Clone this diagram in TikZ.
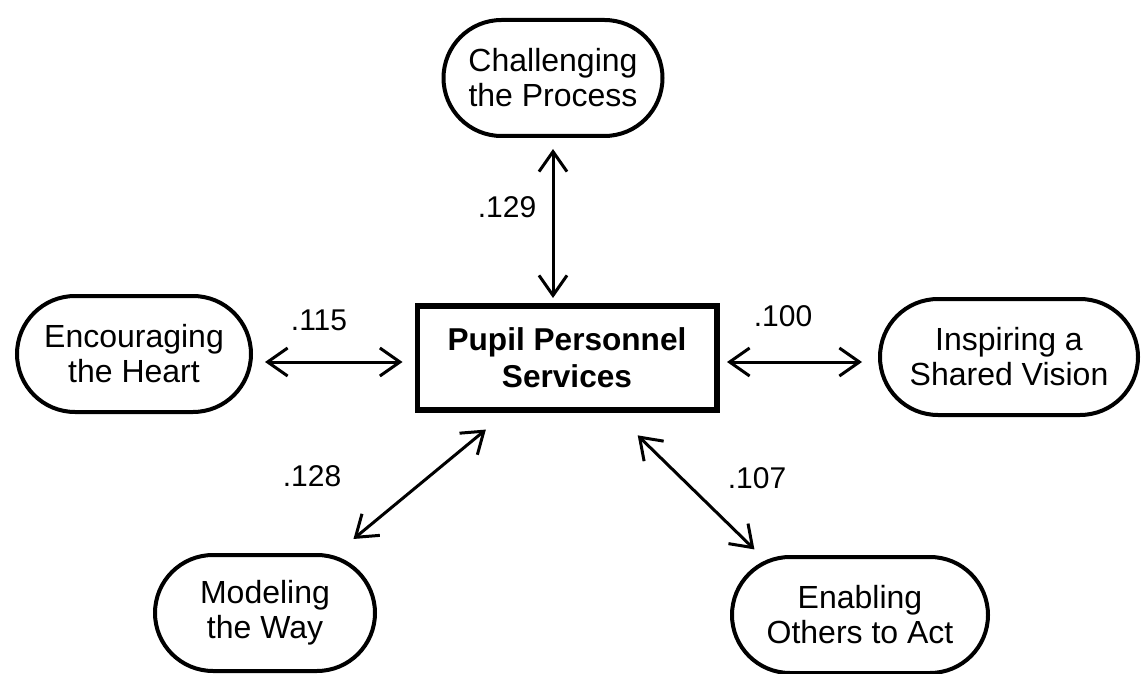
\documentclass[tikz,border=0pt]{standalone}
\usepackage{fontspec}
\setmainfont{Liberation Sans}
\usetikzlibrary{arrows.meta, positioning}

\begin{document}
\begin{tikzpicture}[
    x=0.5pt, y=-0.5pt,
    practice/.style={rectangle, draw, line width=2pt, rounded corners=29pt,
                minimum height=58pt, align=center,
                font=\fontsize{16}{17.5}\selectfont},
    unit/.style={rectangle, draw, line width=2.8pt,
                minimum width=149.7pt, minimum height=52.2pt,
                align=center, font=\fontsize{15.8}{18.5}\selectfont\bfseries},
    link/.style={{Straight Barb[length=10pt,width=14pt]}-{Straight Barb[length=10pt,width=14pt]},
                line width=1.5pt},
    coef/.style={font=\fontsize{15}{17}\selectfont}
]
\useasboundingbox (0,0) rectangle (1142,674);

\node[unit] (pps) at (567,358) {Pupil Personnel\\Services};
\node[practice, minimum width=109.5pt] (chal) at (553,78) {Challenging\\the Process};
\node[practice, minimum width=117pt] (enc) at (134,354) {Encouraging\\the Heart};
\node[practice, minimum width=129pt] (insp) at (1009,357) {Inspiring a\\Shared Vision};
\node[practice, minimum width=110pt] (model) at (265,613) {Modeling\\the Way};
\node[practice, minimum width=128pt] (enab) at (860,615) {Enabling\\Others to Act};

\draw[link, shorten <=5.5pt, shorten >=2.5pt] (chal.south) -- (chal.south |- pps.north);
\draw[link, shorten <=6pt, shorten >=6pt] ([yshift=-2pt]enc.east |- pps.west) -- ([yshift=-2pt]pps.west);
\draw[link, shorten <=3.75pt, shorten >=8pt] ([yshift=-2pt]pps.east) -- ([yshift=-2pt]insp.west |- pps.east);
\draw[link, shorten <=13pt, shorten >=11pt] (pps.222) -- (model.40);
\draw[link, shorten <=16pt, shorten >=4pt] (pps.311) -- (enab.149);

\node[coef] (c129) at (507,207) {.129};
\node[coef] (c115) at (319,320) {.115};
\node[coef] (c100) at (783,316) {.100};
\node[coef] (c128) at (312,476) {.128};
\node[coef] (c107) at (757,478) {.107};

\end{tikzpicture}
\end{document}
